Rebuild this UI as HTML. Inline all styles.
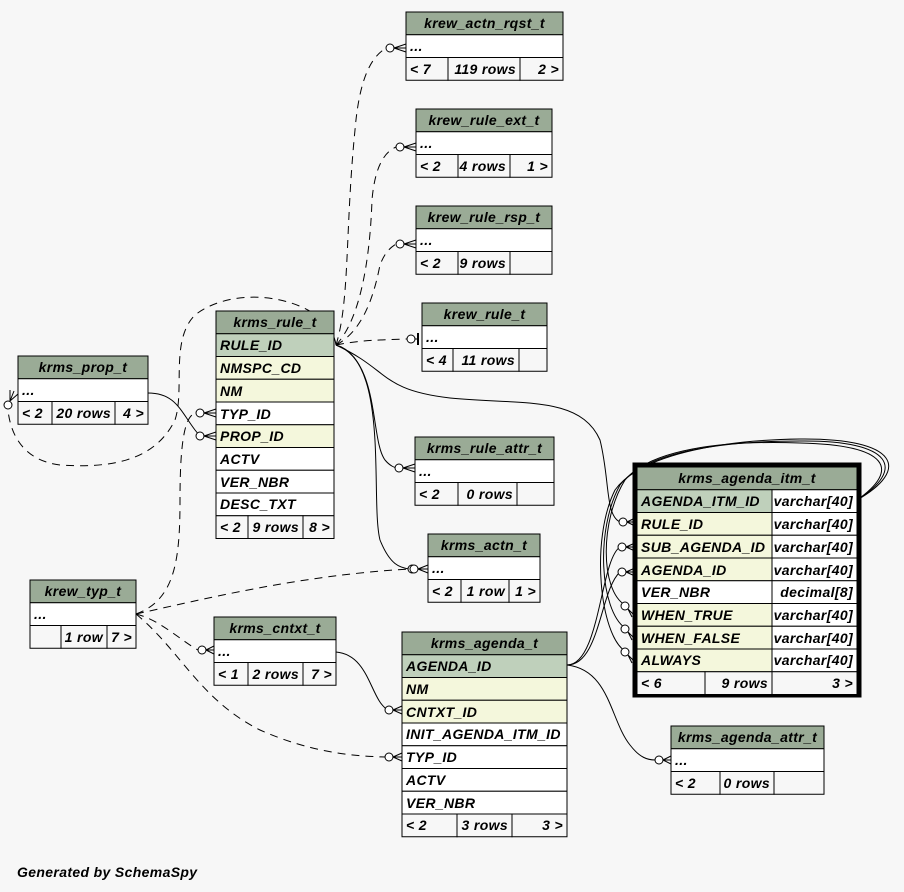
<!DOCTYPE html>
<html><head><meta charset="utf-8"><style>
html,body{margin:0;padding:0;background:#f7f7f7;}
svg{display:block}
text{font-family:"Liberation Sans",sans-serif;font-weight:bold;font-style:italic;font-size:14px;fill:#000;letter-spacing:0.35px}
.h{fill:#9aab96}.pk{fill:#bfd0bb}.fk{fill:#f4f7dc}.w{fill:#ffffff}.ft{fill:#f7f7f7}
rect{stroke:#000;stroke-width:1}
.e{fill:none;stroke:#000;stroke-width:1}
.d{fill:none;stroke:#000;stroke-width:1;stroke-dasharray:8,6}
.c{fill:#fff;stroke:#000;stroke-width:1}
</style></head><body>
<svg width="904" height="892" viewBox="0 0 904 892" xmlns="http://www.w3.org/2000/svg">
<rect x="0" y="0" width="904" height="892" style="fill:#f7f7f7;stroke:none"/>

<g>
<path class="d" d="M336 345 C350 300 345 230 355 130 C360 70 375 55 386 48"/>
<path class="d" d="M336 345 C360 320 370 260 372 200 C375 165 385 152 396 147"/>
<path class="d" d="M336 345 C365 330 375 290 380 265 C385 252 390 248 396 244"/>
<path class="d" d="M336 345 C360 340 380 340 407 339"/>
<path class="e" d="M336 345 C380 360 370 440 385 460 C390 466 395 468 398 468"/>
<path class="e" d="M336 345 C390 360 370 500 380 540 C390 565 400 568 410 569"/>
<path class="e" d="M336 345 C390 370 380 390 450 398 C520 405 580 395 600 440 C610 480 605 515 620 522"/>
<path class="d" d="M336 345 C330 300 240 280 195 315 C170 340 185 390 175 420 C160 450 130 470 60 465 C20 460 10 430 8 410"/>
<path class="e" d="M148 393 C175 393 180 410 195 430 C198 434 200 436 202 436"/>
<path class="d" d="M136 614 C175 600 180 560 180 500 C180 440 185 415 196 413"/>
<path class="d" d="M136 614 C200 600 300 575 410 569"/>
<path class="d" d="M136 614 C160 620 180 640 198 650"/>
<path class="d" d="M136 614 C180 650 200 700 260 730 C310 752 350 756 385 757"/>
<path class="e" d="M336 652 C370 655 370 700 388 710"/>
<path class="e" d="M567 665 C600 665 600 560 620 547"/>
<path class="e" d="M567 665 C600 665 600 590 620 572"/>
<path class="e" d="M567 665 C610 670 610 720 630 745 C640 758 648 760 655 760"/>
<path class="e" d="M857 500 C900 470 890 445 800 443 C720 440 650 450 625 480 C600 520 600 590 625 605"/>
<path class="e" d="M857 500 C905 470 895 440 800 441 C720 441 645 452 620 485 C595 530 600 610 625 628"/>
<path class="e" d="M857 500 C910 470 900 438 800 439 C720 440 640 455 615 490 C590 540 600 635 625 651"/>
<g>
<circle class="c" cx="390" cy="48" r="4"/><path class="e" d="M394 48 L406 44 M394 48 L406 48 M394 48 L406 52"/>
<circle class="c" cx="400" cy="147" r="4"/><path class="e" d="M404 147 L416 143 M404 147 L416 147 M404 147 L416 151"/>
<circle class="c" cx="400" cy="244" r="4"/><path class="e" d="M404 244 L416 240 M404 244 L416 244 M404 244 L416 248"/>
<circle class="c" cx="411" cy="339" r="4"/><path class="e" d="M415 339 L418 339" /><path d="M418 333 L418 345" style="stroke:#000;stroke-width:2"/>
<circle class="c" cx="399" cy="468" r="4"/><path class="e" d="M403 468 L415 464 M403 468 L415 468 M403 468 L415 472"/>
<circle class="c" cx="412" cy="569" r="4"/><circle class="c" cx="414" cy="569" r="4"/><path class="e" d="M418 569 L428 565 M418 569 L428 569 M418 569 L428 573"/>
<circle class="c" cx="200" cy="413" r="4"/><path class="e" d="M204 413 L216 409 M204 413 L216 413 M204 413 L216 417"/>
<circle class="c" cx="200" cy="436" r="4"/><path class="e" d="M204 436 L216 432 M204 436 L216 436 M204 436 L216 440"/>
<circle class="c" cx="8" cy="405" r="4"/><path class="e" d="M10 401 L14 391 M10 401 L10 390 M10 401 L18 394"/>
<circle class="c" cx="202" cy="650" r="4"/><path class="e" d="M206 650 L214 646 M206 650 L214 650 M206 650 L214 654"/>
<circle class="c" cx="389" cy="757" r="4"/><path class="e" d="M393 757 L402 753 M393 757 L402 757 M393 757 L402 761"/>
<circle class="c" cx="389" cy="710" r="4"/><path class="e" d="M393 710 L402 706 M393 710 L402 710 M393 710 L402 714"/>
<circle class="c" cx="659" cy="760" r="4"/><path class="e" d="M663 760 L671 756 M663 760 L671 760 M663 760 L671 764"/>
<circle class="c" cx="623" cy="522" r="4"/><path class="e" d="M627 522 L635 518 M627 522 L635 522 M627 522 L635 526"/>
<circle class="c" cx="622" cy="547" r="4"/><path class="e" d="M626 547 L635 543 M626 547 L635 547 M626 547 L635 551"/>
<circle class="c" cx="622" cy="572" r="4"/><path class="e" d="M626 572 L635 568 M626 572 L635 572 M626 572 L635 576"/>
<circle class="c" cx="625" cy="606" r="4"/><path class="e" d="M628 609 L635 616 M628 609 L632 617"/>
<circle class="c" cx="625" cy="629" r="4"/><path class="e" d="M628 632 L635 639 M628 632 L632 640"/>
<circle class="c" cx="625" cy="652" r="4"/><path class="e" d="M628 655 L635 662 M628 655 L632 663"/>
</g>
</g>

<rect class="h" x="406" y="12" width="157" height="22.75"/><text x="484.5" y="28" text-anchor="middle">krew_actn_rqst_t</text>
<rect class="w" x="406" y="34.75" width="157" height="22.75"/><text x="410" y="51">...</text>
<rect class="ft" x="406" y="57.5" width="42" height="22.75"/><rect class="ft" x="448" y="57.5" width="72" height="22.75"/><rect class="ft" x="520" y="57.5" width="43" height="22.75"/>
<text x="410" y="74">&lt; 7</text><text x="516" y="74" text-anchor="end">119 rows</text><text x="559" y="74" text-anchor="end">2 &gt;</text>

<rect class="h" x="416" y="109" width="136" height="22.75"/><text x="484" y="125" text-anchor="middle">krew_rule_ext_t</text>
<rect class="w" x="416" y="131.75" width="136" height="22.75"/><text x="420" y="148">...</text>
<rect class="ft" x="416" y="154.5" width="42" height="22.75"/><rect class="ft" x="458" y="154.5" width="52" height="22.75"/><rect class="ft" x="510" y="154.5" width="42" height="22.75"/>
<text x="420" y="171">&lt; 2</text><text x="506" y="171" text-anchor="end">4 rows</text><text x="548" y="171" text-anchor="end">1 &gt;</text>

<rect class="h" x="416" y="206" width="136" height="22.75"/><text x="484" y="222" text-anchor="middle">krew_rule_rsp_t</text>
<rect class="w" x="416" y="228.75" width="136" height="22.75"/><text x="420" y="245">...</text>
<rect class="ft" x="416" y="251.5" width="42" height="22.75"/><rect class="ft" x="458" y="251.5" width="52" height="22.75"/><rect class="ft" x="510" y="251.5" width="42" height="22.75"/>
<text x="420" y="268">&lt; 2</text><text x="506" y="268" text-anchor="end">9 rows</text>

<rect class="h" x="422" y="303" width="125" height="22.75"/><text x="484.5" y="319" text-anchor="middle">krew_rule_t</text>
<rect class="w" x="422" y="325.75" width="125" height="22.75"/><text x="426" y="342">...</text>
<rect class="ft" x="422" y="348.5" width="31" height="22.75"/><rect class="ft" x="453" y="348.5" width="66" height="22.75"/><rect class="ft" x="519" y="348.5" width="28" height="22.75"/>
<text x="426" y="365">&lt; 4</text><text x="515" y="365" text-anchor="end">11 rows</text>

<rect class="h" x="18" y="356" width="130" height="22.75"/><text x="83" y="372" text-anchor="middle">krms_prop_t</text>
<rect class="w" x="18" y="378.75" width="130" height="22.75"/><text x="22" y="395">...</text>
<rect class="ft" x="18" y="401.5" width="34" height="22.75"/><rect class="ft" x="52" y="401.5" width="63" height="22.75"/><rect class="ft" x="115" y="401.5" width="33" height="22.75"/>
<text x="22" y="418">&lt; 2</text><text x="111" y="418" text-anchor="end">20 rows</text><text x="144" y="418" text-anchor="end">4 &gt;</text>

<rect class="h" x="216" y="311" width="118" height="22.75"/><text x="275" y="327" text-anchor="middle">krms_rule_t</text>
<rect class="pk" x="216" y="333.75" width="118" height="22.75"/><text x="220" y="350">RULE_ID</text>
<rect class="fk" x="216" y="356.5" width="118" height="22.75"/><text x="220" y="373">NMSPC_CD</text>
<rect class="fk" x="216" y="379.25" width="118" height="22.75"/><text x="220" y="396">NM</text>
<rect class="w" x="216" y="402" width="118" height="22.75"/><text x="220" y="419">TYP_ID</text>
<rect class="fk" x="216" y="424.75" width="118" height="22.75"/><text x="220" y="441">PROP_ID</text>
<rect class="w" x="216" y="447.5" width="118" height="22.75"/><text x="220" y="464">ACTV</text>
<rect class="w" x="216" y="470.25" width="118" height="22.75"/><text x="220" y="487">VER_NBR</text>
<rect class="w" x="216" y="493" width="118" height="22.75"/><text x="220" y="509">DESC_TXT</text>
<rect class="ft" x="216" y="515.75" width="32" height="22.75"/><rect class="ft" x="248" y="515.75" width="55" height="22.75"/><rect class="ft" x="303" y="515.75" width="31" height="22.75"/>
<text x="220" y="532">&lt; 2</text><text x="299" y="532" text-anchor="end">9 rows</text><text x="330" y="532" text-anchor="end">8 &gt;</text>

<rect class="h" x="415" y="437" width="139" height="22.75"/><text x="484.5" y="453" text-anchor="middle">krms_rule_attr_t</text>
<rect class="w" x="415" y="459.75" width="139" height="22.75"/><text x="419" y="476">...</text>
<rect class="ft" x="415" y="482.5" width="43" height="22.75"/><rect class="ft" x="458" y="482.5" width="59" height="22.75"/><rect class="ft" x="517" y="482.5" width="37" height="22.75"/>
<text x="419" y="499">&lt; 2</text><text x="513" y="499" text-anchor="end">0 rows</text>

<rect class="h" x="428" y="534" width="112" height="22.75"/><text x="484" y="550" text-anchor="middle">krms_actn_t</text>
<rect class="w" x="428" y="556.75" width="112" height="22.75"/><text x="432" y="573">...</text>
<rect class="ft" x="428" y="579.5" width="33" height="22.75"/><rect class="ft" x="461" y="579.5" width="48" height="22.75"/><rect class="ft" x="509" y="579.5" width="31" height="22.75"/>
<text x="432" y="596">&lt; 2</text><text x="505" y="596" text-anchor="end">1 row</text><text x="536" y="596" text-anchor="end">1 &gt;</text>

<rect class="h" x="30" y="580" width="106" height="22.75"/><text x="83" y="596" text-anchor="middle">krew_typ_t</text>
<rect class="w" x="30" y="602.75" width="106" height="22.75"/><text x="34" y="619">...</text>
<rect class="ft" x="30" y="625.5" width="31" height="22.75"/><rect class="ft" x="61" y="625.5" width="46" height="22.75"/><rect class="ft" x="107" y="625.5" width="29" height="22.75"/>
<text x="103" y="642" text-anchor="end">1 row</text><text x="132" y="642" text-anchor="end">7 &gt;</text>

<rect class="h" x="214" y="617" width="122" height="22.75"/><text x="275" y="633" text-anchor="middle">krms_cntxt_t</text>
<rect class="w" x="214" y="639.75" width="122" height="22.75"/><text x="218" y="656">...</text>
<rect class="ft" x="214" y="662.5" width="34" height="22.75"/><rect class="ft" x="248" y="662.5" width="55" height="22.75"/><rect class="ft" x="303" y="662.5" width="33" height="22.75"/>
<text x="218" y="679">&lt; 1</text><text x="299" y="679" text-anchor="end">2 rows</text><text x="332" y="679" text-anchor="end">7 &gt;</text>

<rect class="h" x="402" y="632" width="165" height="22.75"/><text x="484.5" y="648" text-anchor="middle">krms_agenda_t</text>
<rect class="pk" x="402" y="654.75" width="165" height="22.75"/><text x="406" y="671">AGENDA_ID</text>
<rect class="fk" x="402" y="677.5" width="165" height="22.75"/><text x="406" y="694">NM</text>
<rect class="fk" x="402" y="700.25" width="165" height="22.75"/><text x="406" y="717">CNTXT_ID</text>
<rect class="w" x="402" y="723" width="165" height="22.75"/><text x="406" y="739">INIT_AGENDA_ITM_ID</text>
<rect class="w" x="402" y="745.75" width="165" height="22.75"/><text x="406" y="762">TYP_ID</text>
<rect class="w" x="402" y="768.5" width="165" height="22.75"/><text x="406" y="785">ACTV</text>
<rect class="w" x="402" y="791.25" width="165" height="22.75"/><text x="406" y="808">VER_NBR</text>
<rect class="ft" x="402" y="814" width="55" height="22.75"/><rect class="ft" x="457" y="814" width="55" height="22.75"/><rect class="ft" x="512" y="814" width="55" height="22.75"/>
<text x="406" y="830">&lt; 2</text><text x="508" y="830" text-anchor="end">3 rows</text><text x="563" y="830" text-anchor="end">3 &gt;</text>

<rect x="634.5" y="464.5" width="225" height="231" style="fill:none;stroke:#000;stroke-width:4"/>
<rect class="h" x="637" y="467" width="220" height="22.75"/><text x="747" y="483" text-anchor="middle">krms_agenda_itm_t</text>
<rect class="pk" x="637" y="489.75" width="135" height="22.75"/><rect class="w" x="772" y="489.75" width="85" height="22.75"/><text x="641" y="506">AGENDA_ITM_ID</text><text x="853" y="506" text-anchor="end">varchar[40]</text>
<rect class="fk" x="637" y="512.5" width="135" height="22.75"/><rect class="w" x="772" y="512.5" width="85" height="22.75"/><text x="641" y="529">RULE_ID</text><text x="853" y="529" text-anchor="end">varchar[40]</text>
<rect class="fk" x="637" y="535.25" width="135" height="22.75"/><rect class="w" x="772" y="535.25" width="85" height="22.75"/><text x="641" y="552">SUB_AGENDA_ID</text><text x="853" y="552" text-anchor="end">varchar[40]</text>
<rect class="fk" x="637" y="558" width="135" height="22.75"/><rect class="w" x="772" y="558" width="85" height="22.75"/><text x="641" y="575">AGENDA_ID</text><text x="853" y="575" text-anchor="end">varchar[40]</text>
<rect class="w" x="637" y="580.75" width="135" height="22.75"/><rect class="w" x="772" y="580.75" width="85" height="22.75"/><text x="641" y="597">VER_NBR</text><text x="853" y="597" text-anchor="end">decimal[8]</text>
<rect class="fk" x="637" y="603.5" width="135" height="22.75"/><rect class="w" x="772" y="603.5" width="85" height="22.75"/><text x="641" y="620">WHEN_TRUE</text><text x="853" y="620" text-anchor="end">varchar[40]</text>
<rect class="fk" x="637" y="626.25" width="135" height="22.75"/><rect class="w" x="772" y="626.25" width="85" height="22.75"/><text x="641" y="643">WHEN_FALSE</text><text x="853" y="643" text-anchor="end">varchar[40]</text>
<rect class="fk" x="637" y="649" width="135" height="22.75"/><rect class="w" x="772" y="649" width="85" height="22.75"/><text x="641" y="665">ALWAYS</text><text x="853" y="665" text-anchor="end">varchar[40]</text>
<rect class="ft" x="637" y="671.75" width="68" height="22.75"/><rect class="ft" x="705" y="671.75" width="67" height="22.75"/><rect class="ft" x="772" y="671.75" width="85" height="22.75"/>
<text x="641" y="688">&lt; 6</text><text x="768" y="688" text-anchor="end">9 rows</text><text x="853" y="688" text-anchor="end">3 &gt;</text>

<rect class="h" x="671" y="726" width="153" height="22.75"/><text x="747.5" y="742" text-anchor="middle">krms_agenda_attr_t</text>
<rect class="w" x="671" y="748.75" width="153" height="22.75"/><text x="675" y="765">...</text>
<rect class="ft" x="671" y="771.5" width="49" height="22.75"/><rect class="ft" x="720" y="771.5" width="54" height="22.75"/><rect class="ft" x="774" y="771.5" width="50" height="22.75"/>
<text x="675" y="788">&lt; 2</text><text x="770" y="788" text-anchor="end">0 rows</text>

<text x="17" y="877">Generated by SchemaSpy</text>
</svg>
</body></html>
